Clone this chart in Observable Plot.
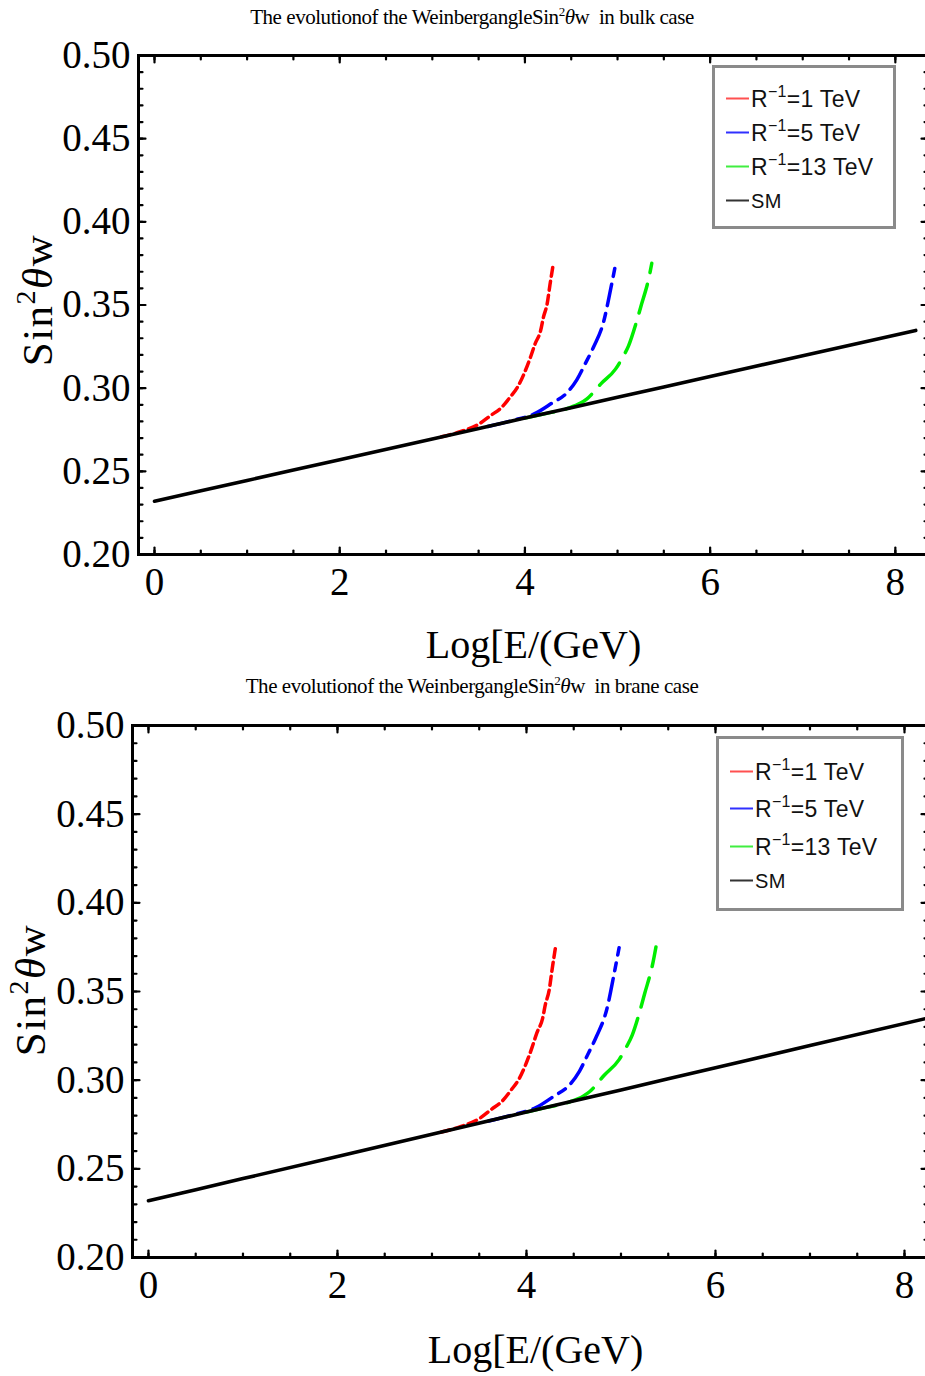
<!DOCTYPE html>
<html><head><meta charset="utf-8">
<script src="https://cdn.jsdelivr.net/npm/d3@7"></script>
<script src="https://cdn.jsdelivr.net/npm/@observablehq/plot@0.6"></script>
<style>
html,body{margin:0;padding:0;background:#fff;overflow:hidden}
#wrap{position:relative;width:925px;height:1376px;overflow:hidden;background:#fff}
.abs{position:absolute}
.title{font-family:"Liberation Serif";font-size:21px;white-space:nowrap;transform:translate(-50%,-50%);letter-spacing:-0.45px;color:#000}
.title sup{font-size:13px;vertical-align:0;position:relative;top:-8px}
.ylab{font-family:"Liberation Serif";font-size:43px;letter-spacing:1.5px;white-space:nowrap;transform:translate(-50%,-50%) rotate(-90deg);color:#000}
.ylab sup{font-size:28px;vertical-align:0;position:relative;top:-17px}
.legend{border:3px solid #8a8a8a;background:#fff;box-sizing:border-box}
.lrow{position:absolute;white-space:nowrap;font-family:"Liberation Sans";font-size:23px;letter-spacing:0.3px;color:#111;transform:translateY(-50%)}
.lrow .seg{display:inline-block;width:23px;height:2px;vertical-align:middle;margin-right:2px;position:relative;top:-2px}
.lrow sup{font-size:16px;vertical-align:0;position:relative;top:-10px}
svg{position:absolute;left:0;max-width:none !important}
</style></head><body><div id="wrap"></div>
<script>
// ---- data ----
const smX  = [0, 1, 2, 3, 4, 5, 6, 7, 8.22];
const smY  = [0.232, 0.2445, 0.257, 0.2695, 0.282, 0.2945, 0.307, 0.3195, 0.3347];

const r1X = [3.10, 3.30, 3.50, 3.63, 3.74, 3.84, 3.92, 3.99, 4.06, 4.11, 4.17, 4.20, 4.24, 4.27, 4.305];
const r1Y = [0.2708, 0.2738, 0.2783, 0.2836, 0.2880, 0.2946, 0.3006, 0.3086, 0.3186, 0.3267, 0.3347, 0.3427, 0.3507, 0.3620, 0.3743];

const r5X = [3.60, 3.88, 4.10, 4.28, 4.46, 4.56, 4.65, 4.74, 4.85, 4.93, 4.98];
const r5Y = [0.2770, 0.2808, 0.2845, 0.2906, 0.2976, 0.3050, 0.3146, 0.3246, 0.3400, 0.3607, 0.3747];

const r13X = [4.00, 4.20, 4.46, 4.60, 4.67, 4.82, 4.98, 5.06, 5.12, 5.20, 5.25, 5.34, 5.37];
const r13Y = [0.2820, 0.2845, 0.2878, 0.2910, 0.2936, 0.3026, 0.3116, 0.3190, 0.3256, 0.3390, 0.3487, 0.3667, 0.3751];

const seriesNames  = ["R-1=1 TeV", "R-1=5 TeV", "R-1=13 TeV", "SM"];
const legendHTML   = ["R<sup>\u22121</sup>=1 TeV", "R<sup>\u22121</sup>=5 TeV", "R<sup>\u22121</sup>=13 TeV", "SM"];
const seriesColors = ["#ff0000", "#0000ff", "#00ee00", "#000000"];
const legendColors = ["#ff5050", "#3030ff", "#40ee40", "#333333"];
const seriesDash   = ["9,5", "22,8,8,8", "30,12", null];

const xMajor = [0, 2, 4, 6, 8];
const xMinor = d3.range(0, 8.5, 0.5);
const yMajor = [0.20, 0.25, 0.30, 0.35, 0.40, 0.45, 0.50];
const yMinor = d3.range(0.20, 0.5001, 0.01);

const titles = ["The evolutionof the WeinbergangleSin<sup>2</sup><i>\u03b8</i>w&nbsp; in bulk case",
                "The evolutionof the WeinbergangleSin<sup>2</sup><i>\u03b8</i>w&nbsp; in brane case"];
const xLabel = "Log[E/(GeV)";
const yLabelHTML = "Sin<sup>2</sup><i>\u03b8</i>w";

const toRows = (xs, ys) => xs.map((x, i) => ({x, y: ys[i]}));
const curves = [toRows(r1X, r1Y), toRows(r5X, r5Y), toRows(r13X, r13Y), toRows(smX, smY)];

const tickShape = {draw(ctx, l) { ctx.moveTo(0, 0); ctx.lineTo(0, -l); }};

function ticks(data, channel, anchor, rotate, length) {
  const o = {frameAnchor: anchor, rotate, length, anchor: "start", shape: tickShape, stroke: "black", strokeWidth: 2.2};
  o[channel] = d => d;
  return Plot.vector(data, o);
}

function panel(cfg) {
  const marks = [];
  curves.forEach((c, i) => {
    marks.push(Plot.line(c, {x: "x", y: "y", stroke: seriesColors[i], strokeWidth: i === 3 ? 3.6 : 3.5,
      strokeDasharray: seriesDash[i], curve: "monotone-x", clip: true}));
  });
  marks.push(
    Plot.frame({stroke: "black", strokeWidth: 3}),
    ticks(yMinor, "y", "left", 90, 4), ticks(yMajor, "y", "left", 90, 7),
    ticks(yMinor, "y", "right", 270, 4), ticks(yMajor, "y", "right", 270, 7),
    ticks(xMinor, "x", "bottom", 0, 4), ticks(xMajor, "x", "bottom", 0, 7),
    ticks(xMinor, "x", "top", 180, 4), ticks(xMajor, "x", "top", 180, 7),
    Plot.axisY({ticks: yMajor, tickSize: 0, tickPadding: 8, tickFormat: d3.format(".2f"), label: null, fontSize: 39}),
    Plot.axisX({ticks: xMajor, tickSize: 0, tickPadding: 13, tickFormat: d => d, label: null, fontSize: 39}),
    Plot.text([xLabel], {text: d => d, frameAnchor: "bottom", dy: cfg.xLabDy, dx: cfg.xLabDx, fontSize: 40, lineAnchor: "middle"})
  );
  const svg = Plot.plot({
    width: 940, height: cfg.height,
    marginTop: cfg.mt, marginBottom: cfg.mb, marginLeft: cfg.ml, marginRight: 12,
    x: {domain: cfg.xDomain},
    y: {domain: [0.2, 0.5]},
    style: {fontFamily: "Liberation Serif", fontSize: "38px", color: "#000", background: "transparent", overflow: "visible", maxWidth: "none"},
    marks
  });
  svg.style.top = cfg.top + "px";
  svg.style.maxWidth = "none";
  return svg;
}

const wrap = document.getElementById("wrap");
const panels = [
  {top: 0,   height: 670, mt: 55, mb: 116, ml: 138, xDomain: [-0.1728, 8.358], xLabDy: 91, xLabDx: 0,
   title: [472, 17], ylab: [37, 300], legend: {l: 712, t: 65, w: 184, h: 164, rows: [99, 133, 167, 201], segX: 726}},
  {top: 670, height: 706, mt: 55, mb: 119, ml: 132, xDomain: [-0.169, 8.254], xLabDy: 93, xLabDx: 5,
   title: [472, 686], ylab: [30, 990], legend: {l: 716, t: 736, w: 188, h: 175, rows: [772, 809, 847, 881], segX: 730}}
];

panels.forEach((p, k) => {
  wrap.appendChild(panel(p));
  const t = document.createElement("div");
  t.className = "abs title"; t.style.left = p.title[0] + "px"; t.style.top = p.title[1] + "px";
  t.innerHTML = titles[k]; wrap.appendChild(t);
  const yl = document.createElement("div");
  yl.className = "abs ylab"; yl.style.left = p.ylab[0] + "px"; yl.style.top = p.ylab[1] + "px";
  yl.innerHTML = yLabelHTML; wrap.appendChild(yl);
  const lg = document.createElement("div");
  lg.className = "abs legend";
  Object.assign(lg.style, {left: p.legend.l + "px", top: p.legend.t + "px", width: p.legend.w + "px", height: p.legend.h + "px"});
  wrap.appendChild(lg);
  legendHTML.forEach((h, i) => {
    const r = document.createElement("div");
    r.className = "abs lrow";
    r.style.left = p.legend.segX + "px"; r.style.top = p.legend.rows[i] + "px";
    if (i === 3) r.style.fontSize = "20px";
    r.innerHTML = `<span class="seg" style="background:${legendColors[i]}"></span>${h}`;
    wrap.appendChild(r);
  });
});
</script></body></html>
